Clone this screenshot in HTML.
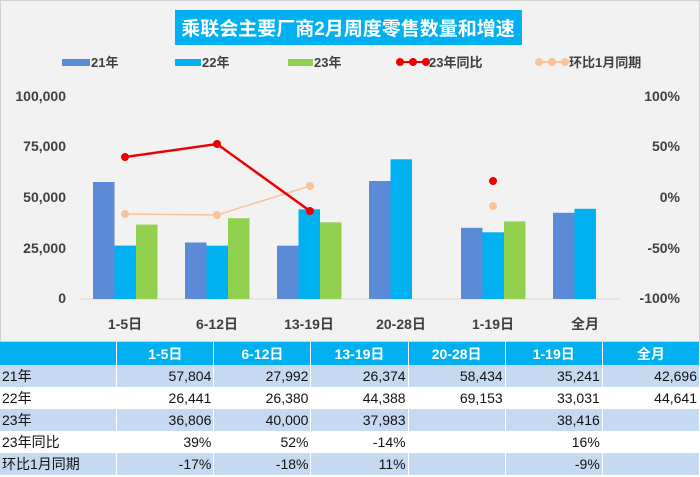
<!DOCTYPE html><html><head><meta charset="utf-8"><style>
body{margin:0;width:700px;height:477px;overflow:hidden;background:#fff;font-family:"Liberation Sans","Noto Sans CJK SC",sans-serif}
table{position:absolute;left:0;top:342px;width:700px;border-collapse:collapse;font-size:14px;color:#111;table-layout:fixed}
td{height:22px;padding:0 2px;text-align:right;border-right:1px solid #fff;width:94px;box-sizing:border-box}
td:first-child{text-align:left;width:113px}
tr.h td{background:#00b0f0;color:#fff;font-weight:bold;text-align:center;height:23px}
tr.a td{background:#c5d9f1}
</style></head><body>
<svg width="700" height="342" style="position:absolute;left:0;top:0" font-family="Liberation Sans,Noto Sans CJK SC,sans-serif">
<rect x="0.5" y="0.5" width="699" height="341" fill="#f2f2f2" stroke="#d0d0d0"/>
<rect x="175" y="10" width="347" height="35" fill="#00b0f0"/>
<text x="348" y="35" fill="#fff" font-size="19" font-weight="bold" text-anchor="middle">乘联会主要厂商2月周度零售数量和增速</text>
<g font-size="13" font-weight="bold" fill="#404040">
<rect x="62" y="59" width="28" height="7" fill="#5b8bd6"/><text x="91" y="67">21年</text>
<rect x="175" y="59" width="26" height="7" fill="#00b0f0"/><text x="202" y="67">22年</text>
<rect x="288" y="59" width="25" height="7" fill="#92d050"/><text x="314" y="67">23年</text>
<line x1="399" y1="62" x2="428" y2="62" stroke="#e00" stroke-width="2"/><circle cx="400" cy="62" r="4" fill="#e00"/><circle cx="413" cy="62" r="4" fill="#e00"/><circle cx="426" cy="62" r="4" fill="#e00"/><text x="429" y="67">23年同比</text>
<line x1="538" y1="62" x2="567" y2="62" stroke="#f8c39a" stroke-width="2"/><circle cx="539" cy="62" r="4" fill="#f8c39a"/><circle cx="552" cy="62" r="4" fill="#f8c39a"/><circle cx="565" cy="62" r="4" fill="#f8c39a"/><text x="569" y="67">环比1月同期</text>
</g>
<g font-size="14" font-weight="bold" fill="#404040">
<text x="66" y="101" text-anchor="end">100,000</text><text x="66" y="151" text-anchor="end">75,000</text><text x="66" y="202" text-anchor="end">50,000</text><text x="66" y="253" text-anchor="end">25,000</text><text x="66" y="303" text-anchor="end">0</text>
<text x="680" y="101" text-anchor="end">100%</text><text x="680" y="151" text-anchor="end">50%</text><text x="680" y="202" text-anchor="end">0%</text><text x="680" y="253" text-anchor="end">-50%</text><text x="680" y="303" text-anchor="end">-100%</text>
</g>
<line x1="80" y1="299" x2="620" y2="299" stroke="#d9d9d9"/>
<g>
<rect x="93" y="182" width="21.5" height="117" fill="#5b8bd6"/><rect x="114.5" y="245.6" width="21.5" height="53.4" fill="#00b0f0"/><rect x="136" y="224.6" width="21.5" height="74.4" fill="#92d050"/>
<rect x="185" y="242.5" width="21.5" height="56.5" fill="#5b8bd6"/><rect x="206.5" y="245.7" width="21.5" height="53.3" fill="#00b0f0"/><rect x="228" y="218.2" width="21.5" height="80.8" fill="#92d050"/>
<rect x="277" y="245.7" width="21.5" height="53.3" fill="#5b8bd6"/><rect x="298.5" y="209.3" width="21.5" height="89.7" fill="#00b0f0"/><rect x="320" y="222.3" width="21.5" height="76.7" fill="#92d050"/>
<rect x="369" y="181" width="21.5" height="118" fill="#5b8bd6"/><rect x="390.5" y="159.3" width="21.5" height="139.7" fill="#00b0f0"/>
<rect x="461" y="227.8" width="21.5" height="71.2" fill="#5b8bd6"/><rect x="482.5" y="232.3" width="21.5" height="66.7" fill="#00b0f0"/><rect x="504" y="221.4" width="21.5" height="77.6" fill="#92d050"/>
<rect x="553" y="212.8" width="21.5" height="86.2" fill="#5b8bd6"/><rect x="574.5" y="208.8" width="21.5" height="90.2" fill="#00b0f0"/>
</g>
<polyline points="125,214 217,215 310,186" fill="none" stroke="#f8c39a" stroke-width="1.5"/>
<g fill="#f8c39a"><circle cx="125" cy="214" r="4"/><circle cx="217" cy="215" r="4"/><circle cx="310" cy="186" r="4"/><circle cx="493" cy="206" r="4"/></g>
<polyline points="125,157 217,144 310,211" fill="none" stroke="#e00" stroke-width="2.5"/>
<g fill="#e00"><circle cx="125" cy="157" r="4"/><circle cx="217" cy="144" r="4"/><circle cx="310" cy="211" r="4"/><circle cx="493" cy="181" r="4"/></g>
<g font-size="14" font-weight="bold" fill="#404040" text-anchor="middle">
<text x="125" y="329">1-5日</text><text x="217" y="329">6-12日</text><text x="309" y="329">13-19日</text><text x="401" y="329">20-28日</text><text x="493" y="329">1-19日</text><text x="585" y="329">全月</text>
</g>
</svg>
<table>
<tr class="h"><td></td><td>1-5日</td><td>6-12日</td><td>13-19日</td><td>20-28日</td><td>1-19日</td><td>全月</td></tr>
<tr class="a"><td>21年</td><td>57,804</td><td>27,992</td><td>26,374</td><td>58,434</td><td>35,241</td><td>42,696</td></tr>
<tr><td>22年</td><td>26,441</td><td>26,380</td><td>44,388</td><td>69,153</td><td>33,031</td><td>44,641</td></tr>
<tr class="a"><td>23年</td><td>36,806</td><td>40,000</td><td>37,983</td><td></td><td>38,416</td><td></td></tr>
<tr><td>23年同比</td><td>39%</td><td>52%</td><td>-14%</td><td></td><td>16%</td><td></td></tr>
<tr class="a"><td>环比1月同期</td><td>-17%</td><td>-18%</td><td>11%</td><td></td><td>-9%</td><td></td></tr>
</table>
</body></html>
